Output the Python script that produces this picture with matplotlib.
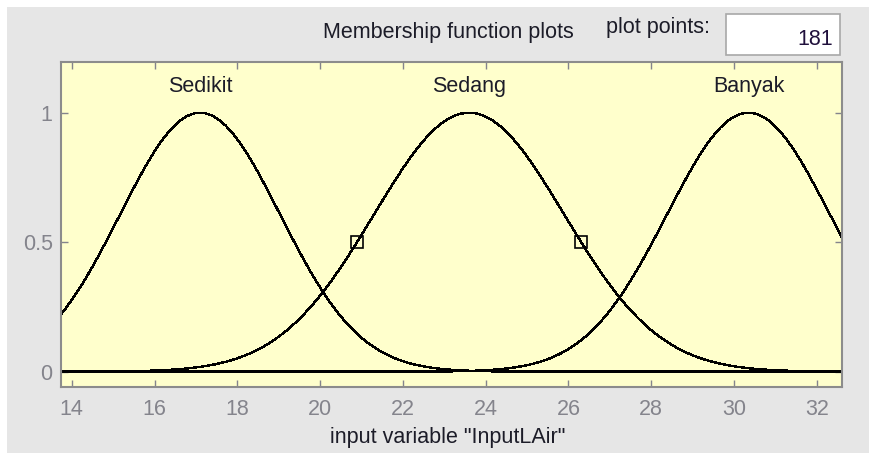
import numpy as np
import matplotlib.pyplot as plt
from matplotlib.patches import Rectangle

# input variable range and sampling
x_range = [13.74, 32.61]
n_points = 181

# gaussian membership functions
mf_names = ['Sedikit', 'Sedang', 'Banyak']
mf_sigma = [1.935, 2.3, 1.97]
mf_center = [17.1, 23.6, 30.35]
selected_mf = 1  # Sedang is the one with handles

x_ticks = [14, 16, 18, 20, 22, 24, 26, 28, 30, 32]
y_ticks = [0, 0.5, 1]
y_tick_labels = ['0', '0.5', '1']

W, H = 869, 453
TXT = '#1c1c28'
TICK = '#84848c'
plt.rcParams['font.family'] = ['Liberation Sans', 'DejaVu Sans']
plt.rcParams['font.size'] = 15.5


def gaussmf(x, sig, c):
    return np.exp(-(x - c) ** 2 / (2 * sig ** 2))


def fx(px):
    return px / W


def fy(py):
    return 1 - py / H


fig = plt.figure(figsize=(W / 100, H / 100), dpi=100)
fig.patch.set_facecolor('white')
fig.add_artist(Rectangle((fx(7), 0), 1 - fx(7), fy(7), transform=fig.transFigure,
                         facecolor='#e6e6e6', edgecolor='none', zorder=0))

ax = fig.add_axes([fx(61), fy(386.7), fx(842) - fx(61), fy(61.7) - fy(386.7)])
ax.set_facecolor('#ffffcc')

x = np.linspace(x_range[0], x_range[1], n_points)
for name, sig, c in zip(mf_names, mf_sigma, mf_center):
    ax.plot(x, gaussmf(x, sig, c), color='black', lw=1.0, antialiased=False)
    ax.text(c, 1.1, name, ha='center', va='center', color=TXT)

# handles at the half-height points of the selected function
sig, c = mf_sigma[selected_mf], mf_center[selected_mf]
half = sig * np.sqrt(2 * np.log(2))
hx = [c - half, c + half]
ax.plot(hx, gaussmf(np.array(hx), sig, c), ls='none', marker='s', ms=8,
        mfc='none', mec='black', mew=1.2)

ax.set_xlim(x_range)
ax.set_ylim(-0.058, 1.197)
ax.set_xticks(x_ticks)
ax.set_yticks(y_ticks)
ax.set_yticklabels(y_tick_labels)
ax.tick_params(direction='in', length=5, width=1, color=TICK, labelcolor=TICK,
               top=True, right=True)
ax.tick_params(axis='x', pad=9)
ax.tick_params(axis='y', pad=6)
for s in ax.spines.values():
    s.set_color('#8c8c8c')
    s.set_linewidth(1.5)

# header texts and the plot points box
fig.text(fx(448), fy(38), 'Membership function plots', ha='center', va='baseline', color=TXT)
fig.text(fx(606), fy(33), 'plot points:', ha='left', va='baseline', color=TXT)
fig.add_artist(Rectangle((fx(726), fy(55)), fx(840) - fx(726), fy(14) - fy(55),
                         transform=fig.transFigure, facecolor='white',
                         edgecolor='#a8a8a8', lw=1.2))
fig.text(fx(833), fy(45), str(n_points), ha='right', va='baseline', color='#20103c')
fig.text(fx(448), fy(443), 'input variable "InputLAir"', ha='center', va='baseline', color=TXT)

fig.savefig('out.png', dpi=100)
